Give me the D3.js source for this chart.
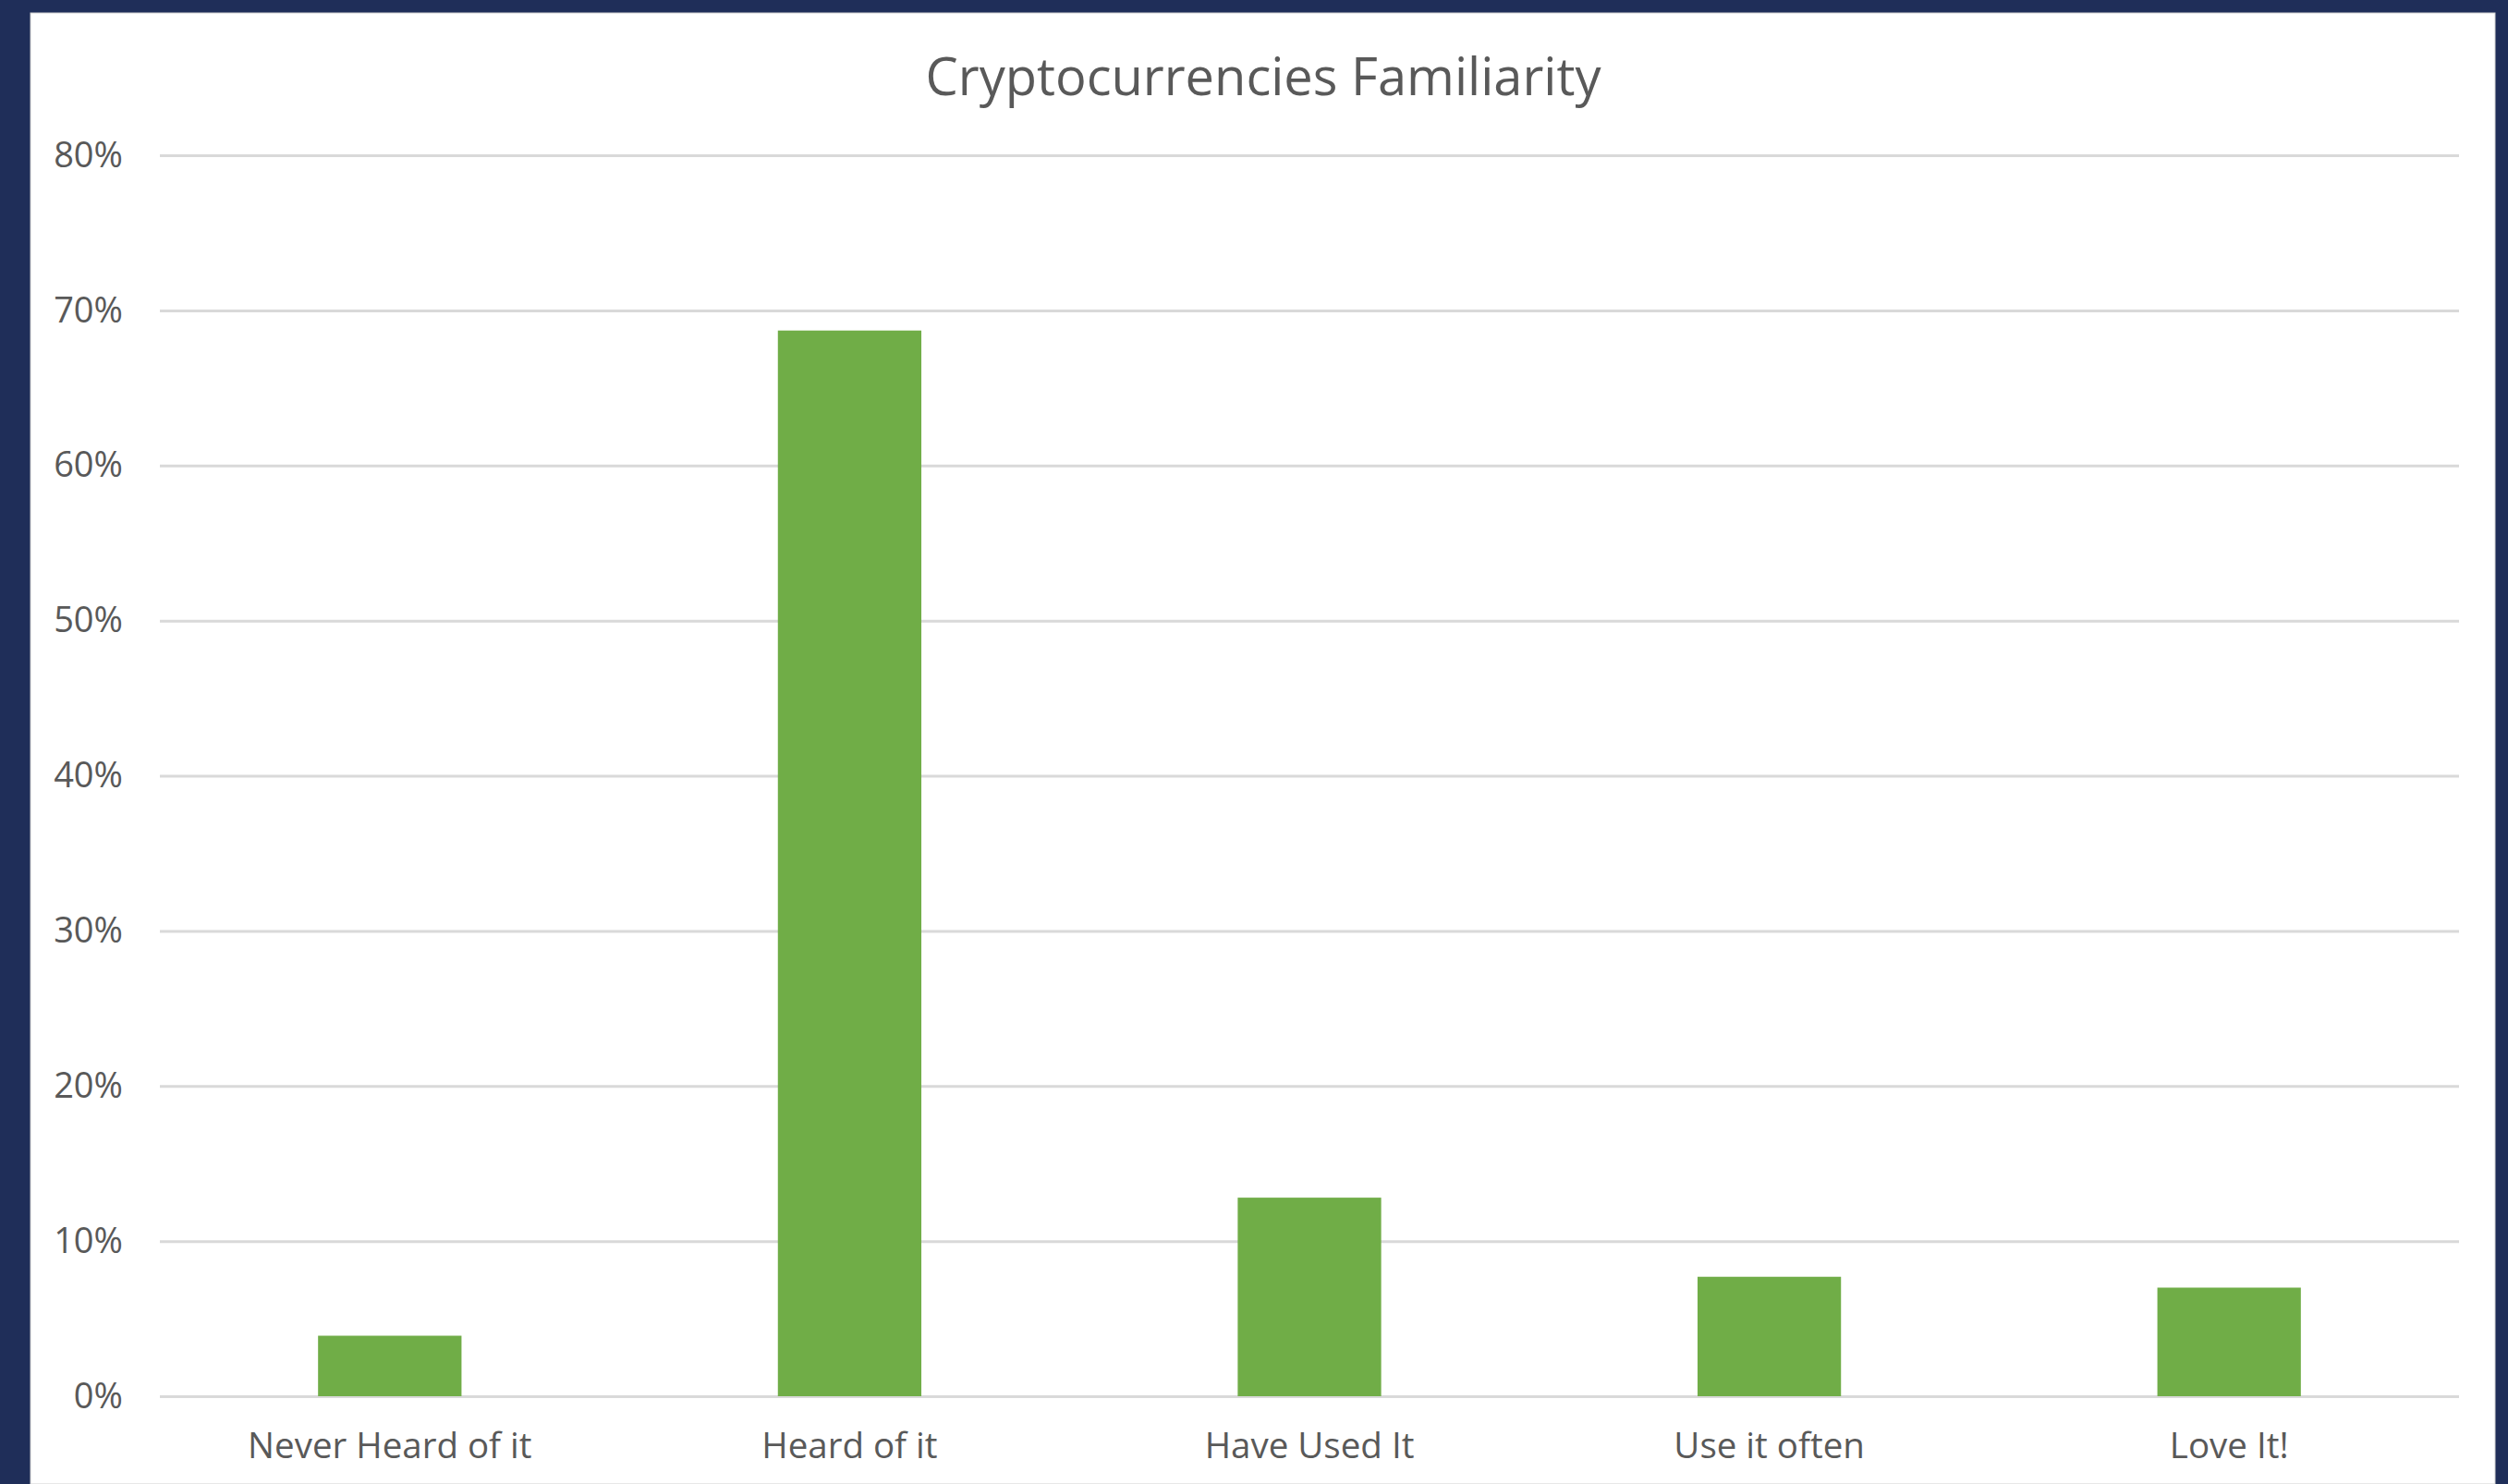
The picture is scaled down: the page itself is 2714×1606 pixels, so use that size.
<!DOCTYPE html>
<html>
<head>
<meta charset="utf-8">
<script src="https://cdn.jsdelivr.net/npm/d3@7"></script>
<style>
  html, body { margin: 0; padding: 0; background: #1f2e59; }
  svg { display: block; }
  text { font-family: "Open Sans", "Noto Sans", sans-serif; fill: #595959; }
</style>
</head>
<body>
<svg id="chart" width="2714" height="1606"></svg>
<script>
// Survey answers and the share of respondents for each
const categories = ["Never Heard of it", "Heard of it", "Have Used It", "Use it often", "Love It!"];
const shares = [0.039, 0.687, 0.128, 0.077, 0.070];
const yTicks = [0, 0.1, 0.2, 0.3, 0.4, 0.5, 0.6, 0.7, 0.8];
const title = "Cryptocurrencies Familiarity";

const W = 2714, H = 1606;
const panel = { x: 33, y: 14, w: 2667, h: H - 14 };
const plot = { left: 173, right: 2661, top: 168, bottom: 1511 };

const svg = d3.select("#chart");

// white card on the navy background
svg.append("rect")
  .attr("x", panel.x).attr("y", panel.y)
  .attr("width", panel.w).attr("height", panel.h)
  .attr("fill", "#ffffff")
  .attr("stroke", "#d0d0d0").attr("stroke-width", 1);

const x = d3.scaleBand()
  .domain(categories)
  .range([plot.left, plot.right])
  .paddingInner(0.688)
  .paddingOuter(0.344);

const y = d3.scaleLinear()
  .domain([0, 0.8])
  .range([plot.bottom, plot.top]);

// horizontal gridlines + percentage labels
const yAxis = d3.axisLeft(y)
  .tickValues(yTicks)
  .tickFormat(d3.format(".0%"))
  .tickSize(-(plot.right - plot.left))
  .tickPadding(40);

const gy = svg.append("g")
  .attr("transform", `translate(${plot.left},0)`)
  .call(yAxis);
gy.select(".domain").remove();
gy.selectAll(".tick line").attr("stroke", "#d9d9d9").attr("stroke-width", 3);
gy.selectAll(".tick text")
  .attr("font-size", 38)
  .attr("fill", "#595959")
  .style("font-family", '"Open Sans", sans-serif');

// bars
svg.append("g")
  .selectAll("rect")
  .data(categories)
  .join("rect")
  .attr("x", d => x(d))
  .attr("width", x.bandwidth())
  .attr("y", (d, i) => y(shares[i]))
  .attr("height", (d, i) => y(0) - y(shares[i]))
  .attr("fill", "#70ad47");

// category labels
const xAxis = d3.axisBottom(x).tickSize(0).tickPadding(40);
const gx = svg.append("g")
  .attr("transform", `translate(0,${plot.bottom})`)
  .call(xAxis);
gx.select(".domain").remove();
gx.selectAll(".tick text")
  .attr("font-size", 38.5)
  .attr("fill", "#595959")
  .style("font-family", '"Open Sans", sans-serif');

// chart title
svg.append("text")
  .attr("x", 1367)
  .attr("y", 103)
  .attr("text-anchor", "middle")
  .attr("font-size", 56)
  .attr("fill", "#595959")
  .text(title);
</script>
</body>
</html>
